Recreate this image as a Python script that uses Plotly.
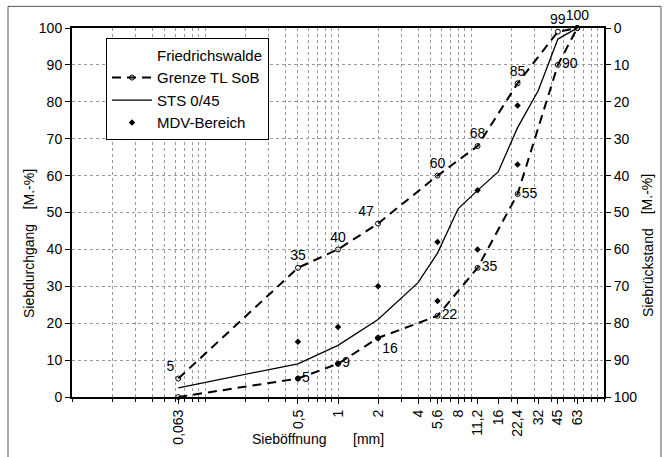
import plotly.graph_objects as go

# Sieve sizes [mm] and grading limits (Grenze TL SoB) in mass-% passing
sieve_grenze = [0.063, 0.5, 1, 2, 5.6, 11.2, 22.4, 45, 63]
grenze_upper = [5, 35, 40, 47, 60, 68, 85, 99, 100]
grenze_lower = [0, 5, 9, 16, 22, 35, 55, 90, 100]

# Measured grading curve STS 0/45
sieve_sts = [0.063, 0.5, 1, 2, 4, 5.6, 8, 11.2, 16, 22.4, 32, 45, 63]
sts_values = [2.5, 9, 14, 21, 31, 39, 51, 56, 61, 73, 83, 97, 100]

# MDV range: upper and lower points per sieve
sieve_mdv = [0.5, 1, 2, 5.6, 11.2, 22.4]
mdv_upper = [15, 19, 30, 42, 56, 79]
mdv_lower = [5, 9, 16, 26, 40, 63]

# Axis tick labels
tick_sieves = [0.063, 0.5, 1, 2, 4, 5.6, 8, 11.2, 16, 22.4, 32, 45, 63]
tick_labels = ["0,063", "0,5", "1", "2", "4", "5,6", "8", "11,2", "16", "22,4", "32", "45", "63"]
minor_grid = [m * 10 ** d for d in (-2, -1, 0, 1) for m in range(1, 10)] + [100]
pct_ticks = list(range(0, 101, 10))

upper_pos = ["top left", "top center", "top center", "top left", "top center",
             "top center", "top center", "top center", "top center"]
lower_pos = ["middle right", "middle right", "middle right", "bottom right", "middle right",
             "middle right", "middle right", "middle right", "middle right"]
lower_text = [""] + [str(v) for v in grenze_lower[1:-1]] + [""]

FONT = "Arial, Liberation Sans, sans-serif"
FS = 14
dash = "9px,6px"

fig = go.Figure()

# legend header
fig.add_trace(go.Scatter(x=[None], y=[None], mode="lines", name="Friedrichswalde",
                         line=dict(width=0, color="rgba(0,0,0,0)"), legendgroup="a"))

fig.add_trace(go.Scatter(
    x=sieve_grenze, y=grenze_upper, mode="lines+markers+text", name="Grenze TL SoB",
    line=dict(color="black", width=2, dash=dash),
    marker=dict(symbol="circle-open", size=5, color="black", line=dict(width=1)),
    text=[str(v) for v in grenze_upper], textposition=upper_pos, cliponaxis=False,
    textfont=dict(size=FS, color="black", family=FONT), legendgroup="b"))
fig.add_trace(go.Scatter(
    x=sieve_grenze, y=grenze_lower, mode="lines+markers+text", showlegend=False,
    line=dict(color="black", width=2, dash=dash),
    marker=dict(symbol="circle-open", size=5, color="black", line=dict(width=1)),
    text=lower_text, textposition=lower_pos, cliponaxis=False,
    textfont=dict(size=FS, color="black", family=FONT), legendgroup="b"))

fig.add_trace(go.Scatter(
    x=sieve_sts, y=sts_values, mode="lines", name="STS 0/45",
    line=dict(color="black", width=1.3), legendgroup="c"))

fig.add_trace(go.Scatter(
    x=sieve_mdv + sieve_mdv, y=mdv_upper + mdv_lower, mode="markers", name="MDV-Bereich",
    marker=dict(symbol="diamond", size=5, color="black"), legendgroup="d"))

# invisible anchors for the overlay axes
fig.add_trace(go.Scatter(x=[1], y=[None], xaxis="x2", yaxis="y", showlegend=False,
                         hoverinfo="skip"))
fig.add_trace(go.Scatter(x=[1], y=[None], xaxis="x", yaxis="y2", showlegend=False,
                         hoverinfo="skip"))

# plot area: x 72..604, y 28..403 px
L, R, T, B = 72, 61, 28, 54
PW, PH = 665 - L - R, 457 - T - B


def px(xp):
    return (xp - L) / PW


def py(yp):
    return (457 - B - yp) / PH


title_font = dict(size=FS, family=FONT, color="black")

fig.update_layout(
    width=665, height=457,
    margin=dict(l=L, r=R, t=T, b=B),
    paper_bgcolor="white", plot_bgcolor="white",
    font=dict(family=FONT, size=FS, color="black"),
    showlegend=True,
    legend=dict(x=px(106), y=py(38), xanchor="left", yanchor="top",
                bordercolor="black", borderwidth=1, bgcolor="white",
                font=dict(size=15, family=FONT), traceorder="grouped",
                tracegroupgap=0, itemwidth=40),
    xaxis=dict(type="log", range=[-2, 2], tickvals=tick_sieves, ticktext=tick_labels,
               tickangle=-90, showgrid=False, zeroline=False,
               showline=True, linecolor="black", linewidth=2, mirror=True,
               ticks="outside", ticklen=5, tickcolor="black",
               tickfont=dict(size=FS)),
    xaxis2=dict(type="log", range=[-2, 2], overlaying="x", anchor="y", side="bottom",
                tickvals=minor_grid, showticklabels=False, showgrid=True,
                gridcolor="#9a9a9a", griddash="dot", gridwidth=1,
                ticks="outside", ticklen=4, tickcolor="black", showline=False,
                zeroline=False),
    yaxis=dict(range=[0, 100], tickvals=pct_ticks, showgrid=True, gridcolor="#9a9a9a",
               griddash="dot", zeroline=False, showline=True, linecolor="black",
               linewidth=2, ticks="outside", ticklen=5, tickcolor="black",
               tickfont=dict(size=FS)),
    yaxis2=dict(range=[100, 0], overlaying="y", side="right", anchor="x",
                tickvals=pct_ticks, showgrid=False, zeroline=False, showline=True,
                linecolor="black", linewidth=2, ticks="outside", ticklen=5,
                tickcolor="black", tickfont=dict(size=FS)),
    annotations=[
        dict(text="Siebdurchgang", xref="paper", yref="paper", x=px(29), y=py(275),
             xanchor="center", yanchor="middle", textangle=-90, showarrow=False,
             font=title_font),
        dict(text="[M.-%]", xref="paper", yref="paper", x=px(29), y=py(192),
             xanchor="center", yanchor="middle", textangle=-90, showarrow=False,
             font=title_font),
        dict(text="Siebrückstand", xref="paper", yref="paper", x=px(648), y=py(277),
             xanchor="center", yanchor="middle", textangle=-90, showarrow=False,
             font=title_font),
        dict(text="[M.-%]", xref="paper", yref="paper", x=px(647), y=py(197),
             xanchor="center", yanchor="middle", textangle=-90, showarrow=False,
             font=title_font),
        dict(text="Sieböffnung", xref="paper", yref="paper", x=px(289), y=py(446),
             xanchor="center", yanchor="middle", showarrow=False, font=title_font),
        dict(text="[mm]", xref="paper", yref="paper", x=px(368), y=py(446),
             xanchor="center", yanchor="middle", showarrow=False, font=title_font),
    ],
    shapes=[
        dict(type="rect", xref="paper", yref="paper", x0=px(8), x1=px(661), y0=py(480),
             y1=py(6), line=dict(color="#555", width=1)),
    ],
)

fig.write_html("out.html")
